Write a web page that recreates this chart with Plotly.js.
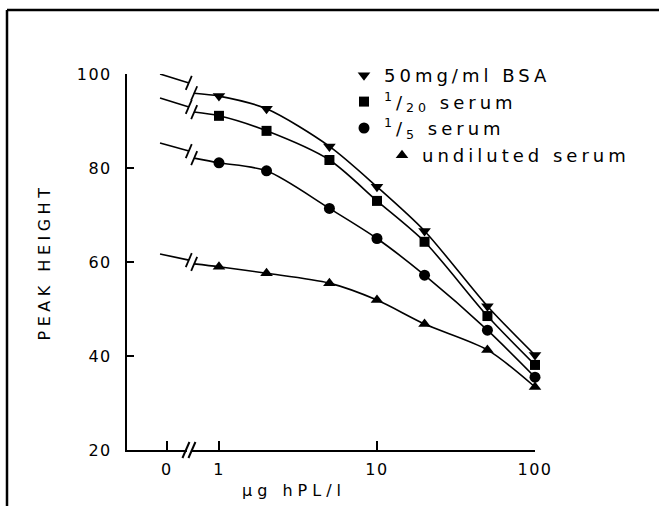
<!DOCTYPE html>
<html>
<head>
<meta charset="utf-8">
<script src="https://cdn.plot.ly/plotly-3.0.1.min.js"></script>
<style>
  html, body { margin: 0; padding: 0; background: #fff; }
  #chart { width: 659px; height: 506px; }
  .xtick text, .ytick text { letter-spacing: 1.5px; }
  .g-ytitle text { letter-spacing: 4.5px; }
  .legend text, .legend2 text, text.legendtext { letter-spacing: 4px; }
  .annotation-text { letter-spacing: 5px; }
</style>
</head>
<body>
<div id="chart"></div>
<script>
// ---- data ----
const doseValues = [1, 2, 5, 10, 20, 50, 100];          // µg hPL/l
const tickLabels = ['0', '1', '10', '100'];
const yTickValues = [20, 40, 60, 80, 100];

const seriesNames = ['50mg/ml BSA', '<sup>1</sup>/<sub>20</sub> serum', '<sup>1</sup>/<sub>5</sub> serum', 'undiluted serum'];
const seriesSymbols = ['triangle-down', 'square', 'circle', 'triangle-up'];

const bsa       = [95.3, 92.6, 84.6, 76.0, 66.6, 50.6, 40.2];
const serum20   = [91.1, 87.9, 81.7, 73.0, 64.3, 48.5, 38.1];
const serum5    = [81.1, 79.4, 71.4, 65.0, 57.2, 45.5, 35.5];
const undiluted = [59.0, 57.6, 55.5, 51.9, 46.8, 41.3, 33.4];

// zero-dose stub (left of the axis break) and the start of the curve after the break
const zeroStart = [100.0, 94.9, 85.3, 61.7];
const preBreak  = [98.1, 93.0, 83.6, 60.4];
const postBreak = [95.9, 91.9, 82.1, 59.6];

// ---- layout constants (log10 dose units on a linear axis) ----
const X_RANGE = [-0.582, 2.0];
const ZERO_POS = -0.33;        // where the "0" tick sits
const STUB_START = -0.373;
const CURVE_BREAK = -0.174;
const AXIS_BREAK = -0.19;
const SLASH_OFF = 0.016;       // half-gap of the "//" mark in log units

const W = 659, H = 506;
const M = {l: 127, r: 124, t: 74, b: 56};
const plotW = W - M.l - M.r, plotH = H - M.t - M.b;
const px2x = p => (p - M.l) / plotW;
const px2y = p => (H - M.b - p) / plotH;

const series = [bsa, serum20, serum5, undiluted];
const logDose = doseValues.map(d => Math.log10(d));
const traces = [];
const shapes = [];

series.forEach((vals, i) => {
  // stub before the break
  traces.push({
    x: [STUB_START, CURVE_BREAK - SLASH_OFF], y: [zeroStart[i], preBreak[i]],
    mode: 'lines', line: {color: '#000', width: 1.6}, showlegend: false, hoverinfo: 'skip'
  });
  // smooth curve after the break
  traces.push({
    x: [CURVE_BREAK + SLASH_OFF].concat(logDose), y: [postBreak[i]].concat(vals),
    mode: 'lines', line: {color: '#000', width: 1.6, shape: 'spline', smoothing: 0.8},
    showlegend: false, hoverinfo: 'skip'
  });
  // data markers (also used for the legend)
  traces.push({
    x: logDose, y: vals, mode: 'markers', name: seriesNames[i],
    marker: {symbol: seriesSymbols[i], color: '#000', size: i === 1 ? 10 : 11},
    cliponaxis: false, showlegend: true,
    legend: i === 3 ? 'legend2' : 'legend'
  });
  // "//" break marks on each curve
  [[preBreak[i], -1], [postBreak[i], 1]].forEach(([yv, s]) => {
    shapes.push({
      type: 'line', xref: 'x', yref: 'y', xsizemode: 'pixel', ysizemode: 'pixel',
      xanchor: CURVE_BREAK, yanchor: yv,
      x0: s * 2.7 - 3, x1: s * 2.7 + 3, y0: -7, y1: 7,
      line: {color: '#000', width: 1.8}, layer: 'above'
    });
  });
});

// break on the x axis: white gap then two slashes
shapes.push({
  type: 'rect', xref: 'x', yref: 'paper', xsizemode: 'pixel', ysizemode: 'pixel',
  xanchor: AXIS_BREAK, yanchor: 0, x0: -2, x1: 2, y0: -2, y1: 2,
  fillcolor: '#fff', line: {width: 0}, layer: 'above'
});
[-1, 1].forEach(s => {
  shapes.push({
    type: 'line', xref: 'x', yref: 'paper', xsizemode: 'pixel', ysizemode: 'pixel',
    xanchor: AXIS_BREAK, yanchor: 0,
    x0: s * 3 - 3.5, x1: s * 3 + 3.5, y0: -8, y1: 8,
    line: {color: '#000', width: 2}, layer: 'above'
  });
});

// outer frame of the figure (top and left edges)
shapes.push({type: 'line', xref: 'paper', yref: 'paper', x0: px2x(7), x1: px2x(659), y0: px2y(10), y1: px2y(10), line: {color: '#000', width: 2.5}});
shapes.push({type: 'line', xref: 'paper', yref: 'paper', x0: px2x(7), x1: px2x(7), y0: px2y(10), y1: px2y(506), line: {color: '#000', width: 2.5}});

const tickFont = {family: 'DejaVu Sans', size: 16, color: '#000'};
const legendFont = {family: 'DejaVu Sans', size: 18, color: '#000'};

const layout = {
  width: W, height: H,
  margin: M,
  paper_bgcolor: '#fff', plot_bgcolor: '#fff',
  showlegend: true,
  xaxis: {
    range: X_RANGE, showgrid: false, zeroline: false,
    showline: true, linecolor: '#000', linewidth: 2,
    ticks: 'inside', ticklen: 9, tickwidth: 2, tickcolor: '#000',
    tickvals: [ZERO_POS, 0, 1, 2], ticktext: tickLabels,
    tickfont: tickFont, ticklabelstandoff: 4
  },
  yaxis: {
    range: [20, 100], showgrid: false, zeroline: false,
    showline: true, linecolor: '#000', linewidth: 2,
    ticks: 'inside', ticklen: 7, tickwidth: 2, tickcolor: '#000',
    tickvals: yTickValues, tickfont: tickFont, ticklabelstandoff: 10,
    title: {text: 'PEAK HEIGHT', font: {family: 'DejaVu Sans', size: 16, color: '#000'}, standoff: 22}
  },
  legend: {
    x: px2x(344), y: px2y(57), xanchor: 'left', yanchor: 'top',
    bgcolor: 'rgba(0,0,0,0)', borderwidth: 0,
    font: legendFont, tracegroupgap: 0
  },
  legend2: {
    x: px2x(382), y: px2y(137), xanchor: 'left', yanchor: 'top',
    bgcolor: 'rgba(0,0,0,0)', borderwidth: 0,
    font: legendFont
  },
  annotations: [{
    text: 'μg hPL/l', xref: 'paper', yref: 'paper',
    x: px2x(294), y: px2y(490), xanchor: 'center', yanchor: 'middle',
    showarrow: false, font: {family: 'DejaVu Sans', size: 16, color: '#000'}
  }],
  shapes: shapes
};

Plotly.newPlot('chart', traces, layout, {displayModeBar: false, staticPlot: true}).then(gd => {
  // the letter-spaced legend text is wider than Plotly measured; do not clip it
  gd.querySelectorAll('.legend, .legend2, .legend .scrollbox, .legend2 .scrollbox').forEach(el => el.removeAttribute('clip-path'));
});
</script>
</body>
</html>
